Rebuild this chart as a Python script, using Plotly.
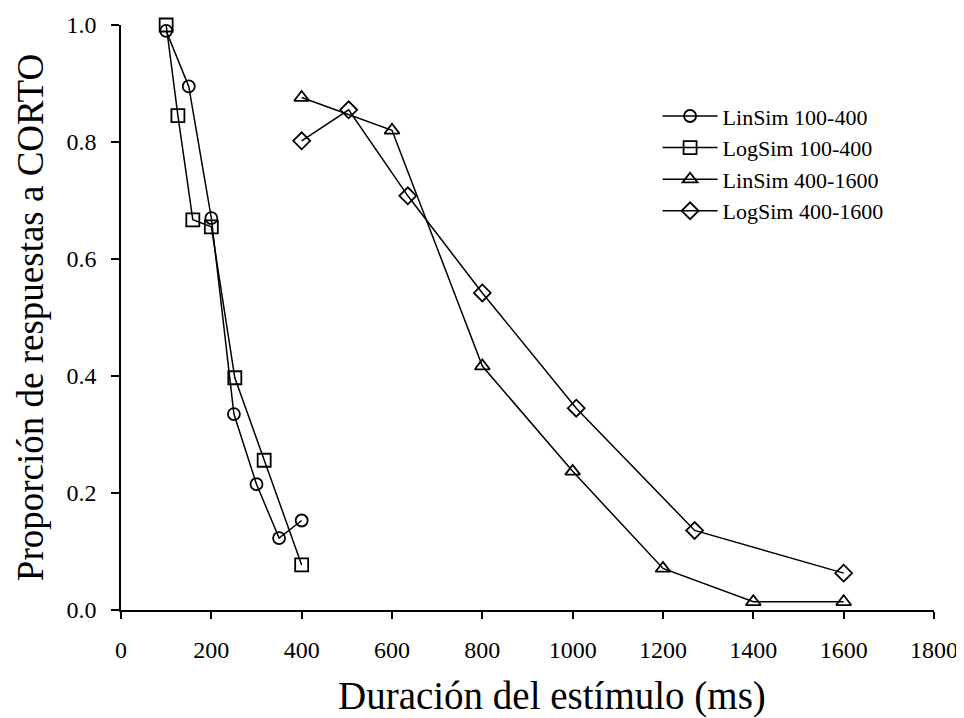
import plotly.graph_objects as go

x_lin_short = [100, 150, 200, 250, 300, 350, 400]
y_lin_short = [0.99, 0.895, 0.67, 0.335, 0.215, 0.123, 0.153]

x_log_short = [100, 126, 159, 200, 252, 317, 400]
y_log_short = [1.0, 0.845, 0.667, 0.655, 0.397, 0.256, 0.077]

x_lin_long = [400, 600, 800, 1000, 1200, 1400, 1600]
y_lin_long = [0.876, 0.82, 0.417, 0.237, 0.071, 0.014, 0.014]

x_log_long = [400, 504, 635, 800, 1008, 1270, 1600]
y_log_long = [0.802, 0.855, 0.708, 0.542, 0.345, 0.136, 0.063]

x_ticks = [0, 200, 400, 600, 800, 1000, 1200, 1400, 1600, 1800]
y_ticks = [0.0, 0.2, 0.4, 0.6, 0.8, 1.0]

x_title = "Duración del estímulo (ms)"
y_title = "Proporción de respuestas a CORTO"

series = [
    ("LinSim 100-400", x_lin_short, y_lin_short, "circle-open", 12),
    ("LogSim 100-400", x_log_short, y_log_short, "square-open", 13),
    ("LinSim 400-1600", x_lin_long, y_lin_long, "triangle-up-open", 13),
    ("LogSim 400-1600", x_log_long, y_log_long, "diamond-open", 13),
]

FF = "Liberation Serif"

fig = go.Figure()
for name, xs, ys, sym, sz in series:
    fig.add_trace(go.Scatter(
        x=xs, y=ys, name=name, mode="lines+markers",
        line=dict(color="black", width=1.5),
        marker=dict(symbol=sym, size=sz, color="black", line=dict(color="black", width=1.8)),
        cliponaxis=False,
    ))

fig.update_layout(
    width=956, height=710,
    margin=dict(l=113, r=30, t=17, b=108),
    paper_bgcolor="white", plot_bgcolor="white",
    font=dict(family=FF, color="black", size=22),
    showlegend=True,
    legend=dict(x=0.66, y=0.88, xanchor="left", yanchor="top",
                font=dict(size=22, family=FF, color="black"), bgcolor="rgba(0,0,0,0)",
                tracegroupgap=0, itemwidth=55),
)
fig.add_annotation(
    text=x_title, xref="paper", yref="paper", x=0.53, y=0,
    xanchor="center", yanchor="top", yshift=-62, showarrow=False,
    font=dict(size=39, family=FF, color="black"),
)
fig.update_xaxes(
    range=[0, 1800], tickvals=x_ticks, automargin=False,
    showgrid=False, zeroline=False, showline=True, linecolor="black", linewidth=1.5,
    ticks="outside", ticklen=7, tickwidth=1.5, tickcolor="black",
    tickfont=dict(size=24, family=FF, color="black"), ticklabelstandoff=10,
)
fig.update_yaxes(
    range=[0, 1.0], tickvals=y_ticks, tickformat=".1f", automargin=False,
    showgrid=False, zeroline=False, showline=True, linecolor="black", linewidth=1.5,
    ticks="outside", ticklen=8, tickwidth=1.5, tickcolor="black",
    tickfont=dict(size=24, family=FF, color="black"), ticklabelstandoff=10,
    title=dict(text=y_title, font=dict(size=37, family=FF, color="black"), standoff=12),
)
fig.write_html("out.html")
